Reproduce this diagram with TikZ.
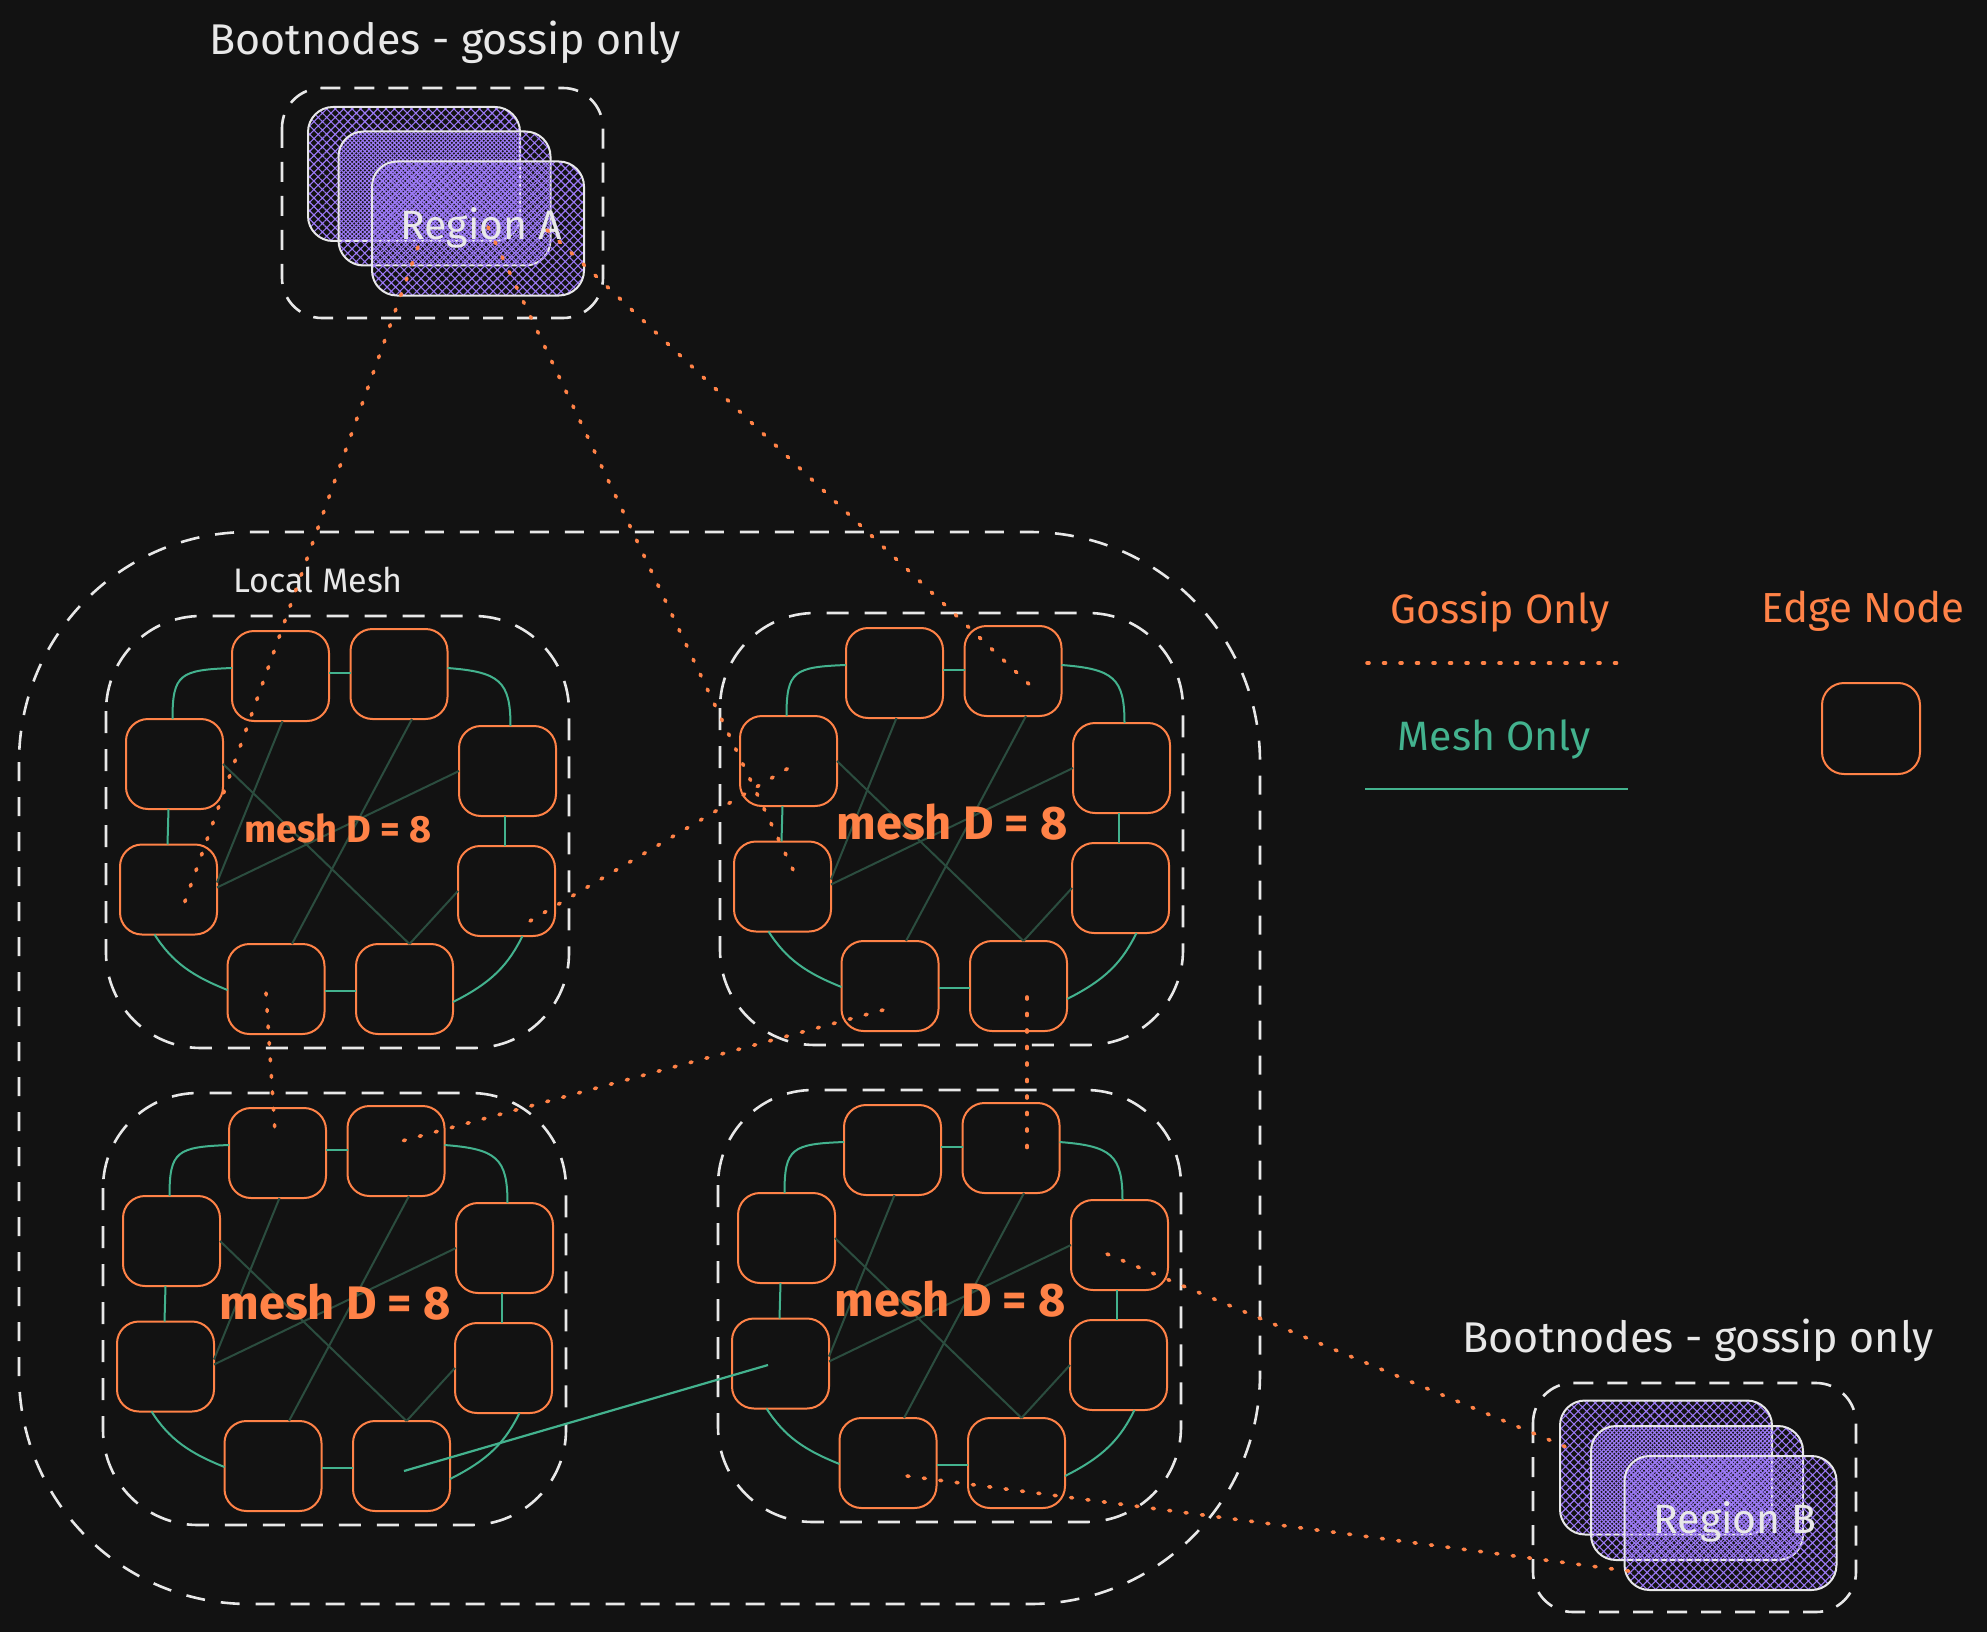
\documentclass[tikz,border=0pt]{standalone}
\usepackage{fontspec}
\setmainfont{Fira Sans}
\usetikzlibrary{patterns.meta}
\definecolor{bg}{HTML}{121212}
\definecolor{orng}{HTML}{FF8247}
\definecolor{mgreen}{HTML}{43B28E}
\definecolor{dgreen}{HTML}{2B4D3F}
\definecolor{wht}{HTML}{E8E8E8}
\definecolor{purp}{HTML}{9B79F4}
\tikzset{
  peer/.style={draw=orng, line width=2pt, rounded corners=22pt, minimum width=97pt, minimum height=90pt, inner sep=0pt, outer sep=0pt},
  boxdash/.style={draw=wht, line width=2.6pt, dash pattern=on 22pt off 16pt, rounded corners=95pt},
  outerdash/.style={draw=wht, line width=2.6pt, dash pattern=on 19pt off 16pt, rounded corners=230pt},
  regdash/.style={draw=wht, line width=2.6pt, dash pattern=on 20pt off 14pt, rounded corners=40pt},
  regbox/.style={draw=wht, line width=2pt, rounded corners=25pt, minimum width=212pt, minimum height=134pt, inner sep=0pt, outer sep=0pt},
  hatchA/.style={pattern={Hatch[angle=45,distance=6pt,line width=1.1pt]}, pattern color=purp},
  hatchB/.style={pattern={Hatch[angle=45,distance=6pt,line width=1.1pt,xshift=4.2pt]}, pattern color=purp},
  hatchC/.style={pattern={Hatch[angle=45,distance=6pt,line width=1.1pt,xshift=1pt]}, pattern color=purp},
  ring/.style={draw=mgreen, line width=2pt},
  chord/.style={draw=dgreen, line width=2pt},
  gossip/.style={draw=orng, line width=3.6pt, line cap=round, dash pattern=on 2pt off 14.5pt},
  meshlink/.style={draw=mgreen, line width=2.2pt},
  lbl/.style={anchor=base, inner sep=0pt, text=wht},
}
\newcommand\meshcluster[4]{%
\begin{scope}[shift={(#2,#3)}]
  \draw[boxdash] (0,0) rectangle (463,432);
  \node[peer] (#1tl) at (174.5,60) {};
  \node[peer] (#1tr) at (293,58) {};
  \node[peer] (#1lu) at (68.5,148) {};
  \node[peer] (#1ru) at (401.5,155) {};
  \node[peer] (#1ll) at (62.5,273.5) {};
  \node[peer] (#1rl) at (400.5,275) {};
  \node[peer] (#1bl) at (170,373) {};
  \node[peer] (#1br) at (298.5,373) {};
  % chords
  \draw[chord] ([xshift=2pt]#1tl.south) -- ([yshift=7pt]#1ll.east);
  \draw[chord] ([xshift=13pt]#1tr.south) -- ([xshift=16pt]#1bl.north);
  \draw[chord] (#1lu.east) -- ([xshift=5pt]#1br.north);
  \draw[chord] (#1ru.west) -- ([yshift=2pt]#1ll.east);
  \draw[chord] (#1rl.west) -- ([xshift=5pt]#1br.north);
  % ring
  \draw[ring] ([yshift=8pt]#1tl.west) .. controls +(-52,2) and +(0,-45) .. ([xshift=-2pt]#1lu.north);
  \draw[ring] ([yshift=3pt]#1tl.east) -- ([yshift=1pt]#1tr.west);
  \draw[ring] ([yshift=6pt]#1tr.east) .. controls +(52,4) and +(0,-45) .. ([xshift=3pt]#1ru.north);
  \draw[ring] ([xshift=-6pt]#1lu.south) -- ([xshift=-1pt]#1ll.north);
  \draw[ring] ([xshift=-3pt]#1ru.south) -- ([xshift=-2pt]#1rl.north);
  \draw[ring] ([xshift=-14pt]#1ll.south) .. controls +(18,28) and +(-35,-14) .. ([yshift=-1pt]#1bl.west);
  \draw[ring] ([yshift=-2pt]#1bl.east) -- ([yshift=-2pt]#1br.west);
  \draw[ring] ([xshift=16pt]#1rl.south) .. controls +(-14,28) and +(40,-20) .. ([yshift=-13pt]#1br.east);
  \node[lbl, text=orng, font=\bfseries\fontsize{#4}{#4}\selectfont] (#1lbl) at (232,226) {mesh D = 8};
\end{scope}}
\begin{document}
\begin{tikzpicture}[x=1pt,y=-1pt]
\fill[bg] (0,0) rectangle (1987,1632);
\useasboundingbox (0,0) rectangle (1987,1632);

% Outer local mesh box
\draw[outerdash] (19,532) rectangle (1260,1604);
\node[lbl, font=\fontsize{34}{34}\selectfont] (localmesh) at (318,592) {Local Mesh};

% Clusters
\meshcluster{a}{106}{616}{38}
\meshcluster{b}{720}{613}{47}
\meshcluster{c}{103}{1093}{47}
\meshcluster{d}{718}{1090}{47}

% Region A
\node[lbl, font=\fontsize{43}{43}\selectfont] (titleA) at (445,55) {Bootnodes - gossip only};
\draw[regdash] (282,88) rectangle (603,318);
\node[regbox, hatchA] (ra1) at (414,174) {};
\node[regbox, hatchB] (ra2) at (444.5,198.5) {};
\node[regbox, hatchC] (ra3) at (478,228.5) {};
\node[lbl, font=\fontsize{41}{41}\selectfont] (regA) at (481,240) {Region A};

% Region B
\node[lbl, font=\fontsize{43}{43}\selectfont] (titleB) at (1698,1352) {Bootnodes - gossip only};
\draw[regdash] (1533,1383) rectangle (1856,1612);
\node[regbox, hatchA] (rb1) at (1666,1467.5) {};
\node[regbox, hatchB] (rb2) at (1697,1493) {};
\node[regbox, hatchC] (rb3) at (1730.5,1523) {};
\node[lbl, font=\fontsize{41}{41}\selectfont] (regB) at (1735,1533) {Region B};

% Legend
\node[lbl, text=orng, font=\fontsize{41}{41}\selectfont] (lgGossip) at (1500,623) {Gossip Only};
\coordinate (lgg1) at (1367,663); \coordinate (lgg2) at (1628,663);
\draw[gossip] (lgg1) -- (lgg2);
\node[lbl, text=mgreen, font=\fontsize{41}{41}\selectfont] (lgMesh) at (1494,750) {Mesh Only};
\coordinate (lgm1) at (1365,789); \coordinate (lgm2) at (1628,789);
\draw[meshlink] (lgm1) -- (lgm2);
\node[lbl, text=orng, font=\fontsize{42}{42}\selectfont] (lgEdge) at (1863,622) {Edge Node};
\node[peer, minimum width=98pt, minimum height=91pt] (lgNode) at (1871,728.5) {};

% Mesh link between clusters
\coordinate (m1a) at (404,1471); \coordinate (m1b) at (768,1365);
\draw[meshlink] (m1a) -- (m1b);

% Gossip links
\coordinate (g1a) at (418,247);  \coordinate (g1b) at (183,907);
\coordinate (g2a) at (488,227);  \coordinate (g2b) at (796,876);
\coordinate (g3a) at (547,230);  \coordinate (g3b) at (1032,687);
\coordinate (g4a) at (530,921);  \coordinate (g4b) at (797,763);
\coordinate (g5a) at (266,993);  \coordinate (g5b) at (275,1132);
\coordinate (g6a) at (883,1010); \coordinate (g6b) at (402,1141);
\coordinate (g7a) at (1027,997); \coordinate (g7b) at (1027,1154);
\coordinate (g8a) at (1107,1254);\coordinate (g8b) at (1578,1452);
\coordinate (g9a) at (907,1476); \coordinate (g9b) at (1636,1572);
\foreach \i in {1,...,9} { \draw[gossip] (g\i a) -- (g\i b); }
\end{tikzpicture}
\end{document}
